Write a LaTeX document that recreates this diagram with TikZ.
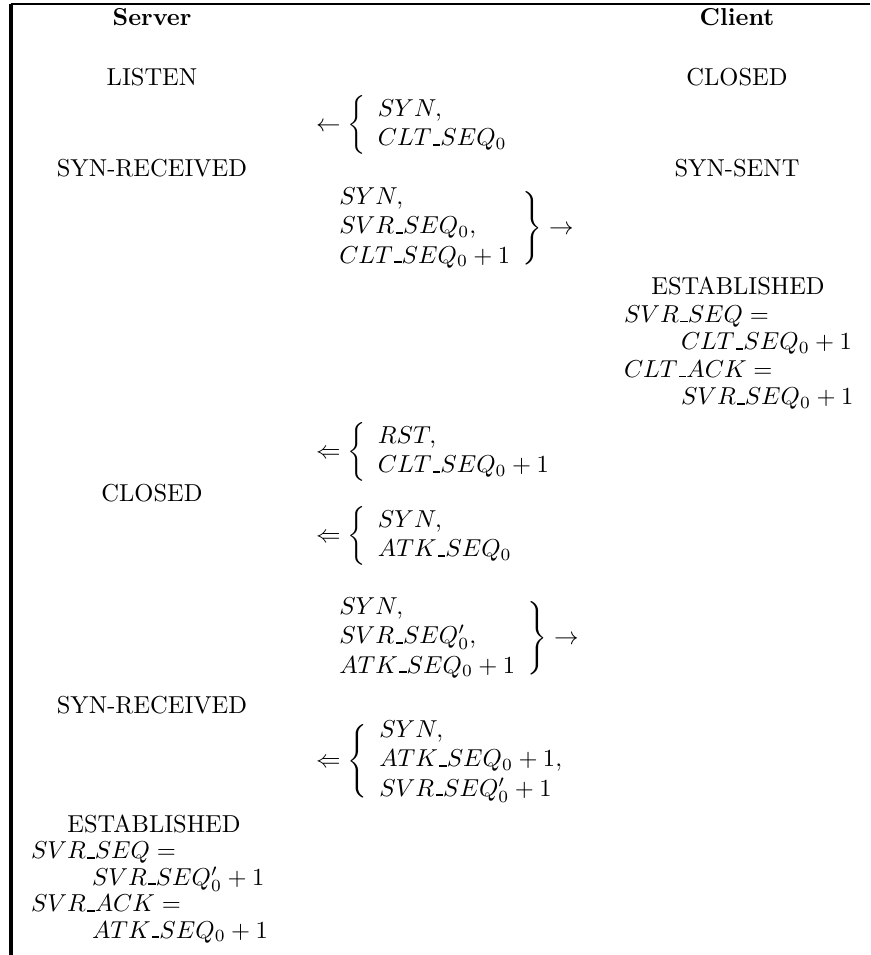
\documentclass[tikz,border=0pt]{standalone}
\newcommand{\usc}{\mbox{\kern.06em\vrule width.3em height0.8pt depth0pt}}
\begin{document}
\begin{tikzpicture}[x=0.40816pt,y=-0.40816pt,
  every node/.style={inner sep=0pt, outer sep=0pt},
  hdr/.style={font=\bfseries, anchor=center},
  st/.style={anchor=center},
  msgl/.style={anchor=west},
  ln/.style={anchor=base west},
  estab/.style={anchor=base},
  toprule/.style={line width=1.1pt},
  siderule/.style={line width=1.5pt}]
\useasboundingbox (0,0) rectangle (870,955);
\coordinate (tl) at (10.7,4);
\coordinate (tr) at (870,4);
\coordinate (bl) at (10.7,955);
\draw[toprule] (tl) -- (tr);
\draw[siderule] (tl) -- (bl);

\node[hdr] (srv) at (152,17) {Server};
\node[hdr] (cli) at (737,17) {Client};
\node[st] (s1) at (152,77) {LISTEN};
\node[st] (c1) at (737,77) {CLOSED};
\node[msgl] (m1) at (316,125) {$\leftarrow \left\{ \begin{array}{l} SYN, \\ CLT\usc SEQ_0 \end{array}\right.$};
\node[st] (s2) at (152,168) {SYN-RECEIVED};
\node[st] (c2) at (737,168) {SYN-SENT};
\node[msgl] (m2) at (327,228) {$\begin{array}{l} SYN,\\ SVR\usc SEQ_0,\\ CLT\usc SEQ_0+1\end{array}\Biggr\}\rightarrow$};
\node[estab] (c3) at (738,295) {ESTABLISHED};
\node[ln] (c3a) at (624,322.5) {$SVR\usc SEQ=$};
\node[ln] (c3b) at (681,350) {$CLT\usc SEQ_0+1$};
\node[ln] (c3c) at (624,377.5) {$CLT\usc ACK=$};
\node[ln] (c3d) at (681,405) {$SVR\usc SEQ_0+1$};
\node[msgl] (m3) at (316,452) {$\Leftarrow \left\{ \begin{array}{l} RST,\\ CLT\usc SEQ_0+1\end{array}\right.$};
\node[st] (s3) at (152,493) {CLOSED};
\node[msgl] (m4) at (316,536) {$\Leftarrow \left\{ \begin{array}{l} SYN,\\ ATK\usc SEQ_0\end{array}\right.$};
\node[msgl] (m5) at (327,638) {$\begin{array}{l} SYN,\\ SVR\usc SEQ'_0,\\ ATK\usc SEQ_0+1\end{array}\Biggr\}\rightarrow$};
\node[st] (s4) at (152,705) {SYN-RECEIVED};
\node[msgl] (m6) at (316,761) {$\Leftarrow \Biggl\{ \begin{array}{l} SYN,\\ ATK\usc SEQ_0+1,\\ SVR\usc SEQ'_0+1\end{array}$};
\node[estab] (s5) at (154,832) {ESTABLISHED};
\node[ln] (s5a) at (31,858.5) {$SVR\usc SEQ=$};
\node[ln] (s5b) at (92,885) {$SVR\usc SEQ'_0+1$};
\node[ln] (s5c) at (31,911.5) {$SVR\usc ACK=$};
\node[ln] (s5d) at (92,938) {$ATK\usc SEQ_0+1$};
\end{tikzpicture}
\end{document}
